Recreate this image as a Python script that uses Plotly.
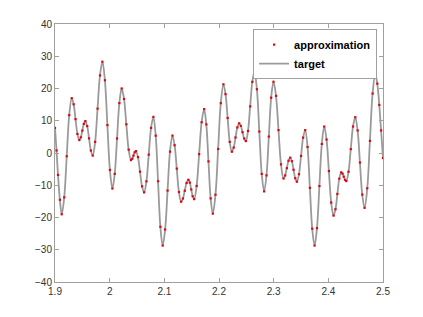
import plotly.graph_objects as go

# sample positions (x) and values
x_vals = [
    1.9000, 1.9028, 1.9055, 1.9089,
    1.9123, 1.91688, 1.92145, 1.92603,
    1.9306, 1.93408, 1.93755, 1.94103,
    1.9445, 1.94725, 1.9500, 1.95275,
    1.9555, 1.95888, 1.96225, 1.96563,
    1.9690, 1.97343, 1.97785, 1.98228,
    1.9867, 1.99128, 1.99585, 2.00043,
    2.0050, 2.00925, 2.0135, 2.01775,
    2.0220, 2.02625, 2.0305, 2.03475,
    2.0390, 2.04125, 2.0435, 2.04575,
    2.0480, 2.05175, 2.0555, 2.05925,
    2.0630, 2.06725, 2.0715, 2.07575,
    2.0800, 2.08425, 2.0885, 2.09275,
    2.0970, 2.10145, 2.1059, 2.11035,
    2.1148, 2.11878, 2.12275, 2.12673,
    2.1307, 2.13403, 2.13735, 2.14068,
    2.1440, 2.14663, 2.14925, 2.15188,
    2.1545, 2.15908, 2.16365, 2.16823,
    2.1728, 2.17678, 2.18075, 2.18473,
    2.1887, 2.19355, 2.1984, 2.20325,
    2.2081, 2.21195, 2.2158, 2.21965,
    2.2235, 2.22685, 2.2302, 2.23355,
    2.2369, 2.23995, 2.2430, 2.24605,
    2.2491, 2.25305, 2.2570, 2.26095,
    2.2649, 2.26933, 2.27375, 2.27818,
    2.2826, 2.28688, 2.29115, 2.29543,
    2.2997, 2.30428, 2.30885, 2.31343,
    2.3180, 2.32105, 2.3241, 2.32715,
    2.3302, 2.33328, 2.33635, 2.33943,
    2.3425, 2.3463, 2.3501, 2.3539,
    2.3577, 2.36198, 2.36625, 2.37053,
    2.3748, 2.37923, 2.38365, 2.38808,
    2.3925, 2.39675, 2.4010, 2.40525,
    2.4095, 2.41303, 2.41655, 2.42008,
    2.4236, 2.4259, 2.4282, 2.4305,
    2.4328, 2.43693, 2.44105, 2.44518,
    2.4493, 2.45355, 2.4578, 2.46205,
    2.4663, 2.4712, 2.4761, 2.4810,
    2.4859, 2.48955, 2.4932, 2.49655,
    2.5000,
]
y_vals = [
    7.8, 0.8, -6.8, -14.5,
    -19.0, -13.74, -1.0, 11.74,
    17.0, 15.1, 10.5, 5.9,
    4.0, 4.86, 6.95, 9.04,
    9.9, 8.34, 4.55, 0.76,
    -0.8, 3.45, 13.75, 24.05,
    28.3, 22.56, 8.65, -5.26,
    -11.0, -6.47, 4.5, 15.47,
    20.0, 16.76, 8.9, 1.04,
    -2.2, -1.79, -0.8, 0.19,
    0.6, -1.27, -5.8, -10.33,
    -12.2, -8.78, -0.5, 7.78,
    11.2, 5.37, -8.75, -22.87,
    -28.7, -23.72, -11.65, 0.42,
    5.4, 2.41, -4.85, -12.11,
    -15.1, -14.11, -11.7, -9.29,
    -8.3, -9.18, -11.3, -13.42,
    -14.3, -10.23, -0.35, 9.53,
    13.6, 8.87, -2.6, -14.07,
    -18.8, -12.95, 1.25, 15.45,
    21.3, 18.25, 10.85, 3.45,
    0.4, 1.68, 4.8, 7.92,
    9.2, 8.4, 6.45, 4.5,
    3.7, 6.84, 14.45, 22.06,
    25.2, 19.78, 6.65, -6.48,
    -11.9, -6.94, 5.1, 17.14,
    22.1, 17.72, 7.1, -3.52,
    -7.9, -6.96, -4.7, -2.39,
    -1.45, -2.54, -5.2, -7.81,
    -8.9, -6.56, -0.9, 4.76,
    7.1, 1.87, -10.8, -23.47,
    -28.7, -23.31, -10.25, 2.81,
    8.2, 4.17, -5.6, -15.37,
    -19.4, -17.44, -12.7, -7.96,
    -6.0, -6.39, -7.35, -8.31,
    -8.7, -5.81, 1.2, 8.21,
    11.1, 7.0, -2.95, -12.9,
    -17.0, -10.94, 3.75, 18.44,
    24.5, 21.5, 14.9, 7.0,
    -1.6,
]

x_ticks = [1.9, 2.0, 2.1, 2.2, 2.3, 2.4, 2.5]
x_tick_labels = ["1.9", "2", "2.1", "2.2", "2.3", "2.4", "2.5"]
y_ticks = [-40, -30, -20, -10, 0, 10, 20, 30, 40]

fig = go.Figure()
fig.add_trace(go.Scatter(
    x=x_vals, y=y_vals, mode="lines", name="target",
    line=dict(color="#9a9a9a", width=1.8, shape="spline", smoothing=1.0),
    legendrank=2,
))
fig.add_trace(go.Scatter(
    x=x_vals, y=y_vals, mode="markers", name="approximation",
    marker=dict(color="#e8000b", size=2.2, symbol="square"),
    legendrank=1,
))

axis_common = dict(
    showline=True, linecolor="#a0a0a0", linewidth=1, mirror="ticks",
    ticks="inside", ticklen=4, tickcolor="#a0a0a0", showgrid=False, zeroline=False,
    tickfont=dict(family="Liberation Sans, Arial, sans-serif", size=10, color="#333333"),
)
fig.update_xaxes(range=[1.9, 2.5], tickvals=x_ticks, ticktext=x_tick_labels, **axis_common)
fig.update_yaxes(range=[-40, 40], tickvals=y_ticks, **axis_common)

fig.update_layout(
    width=423, height=317,
    margin=dict(l=55, r=40, t=24, b=35),
    paper_bgcolor="white", plot_bgcolor="white",
    showlegend=True,
    legend=dict(
        x=0.982, y=0.98, xanchor="right", yanchor="top",
        bgcolor="white", bordercolor="#a0a0a0", borderwidth=1,
        font=dict(family="Liberation Sans, Arial, sans-serif", size=11, color="black", weight="bold"),
        itemwidth=30, tracegroupgap=0,
    ),
)

fig.write_html("out.html")
